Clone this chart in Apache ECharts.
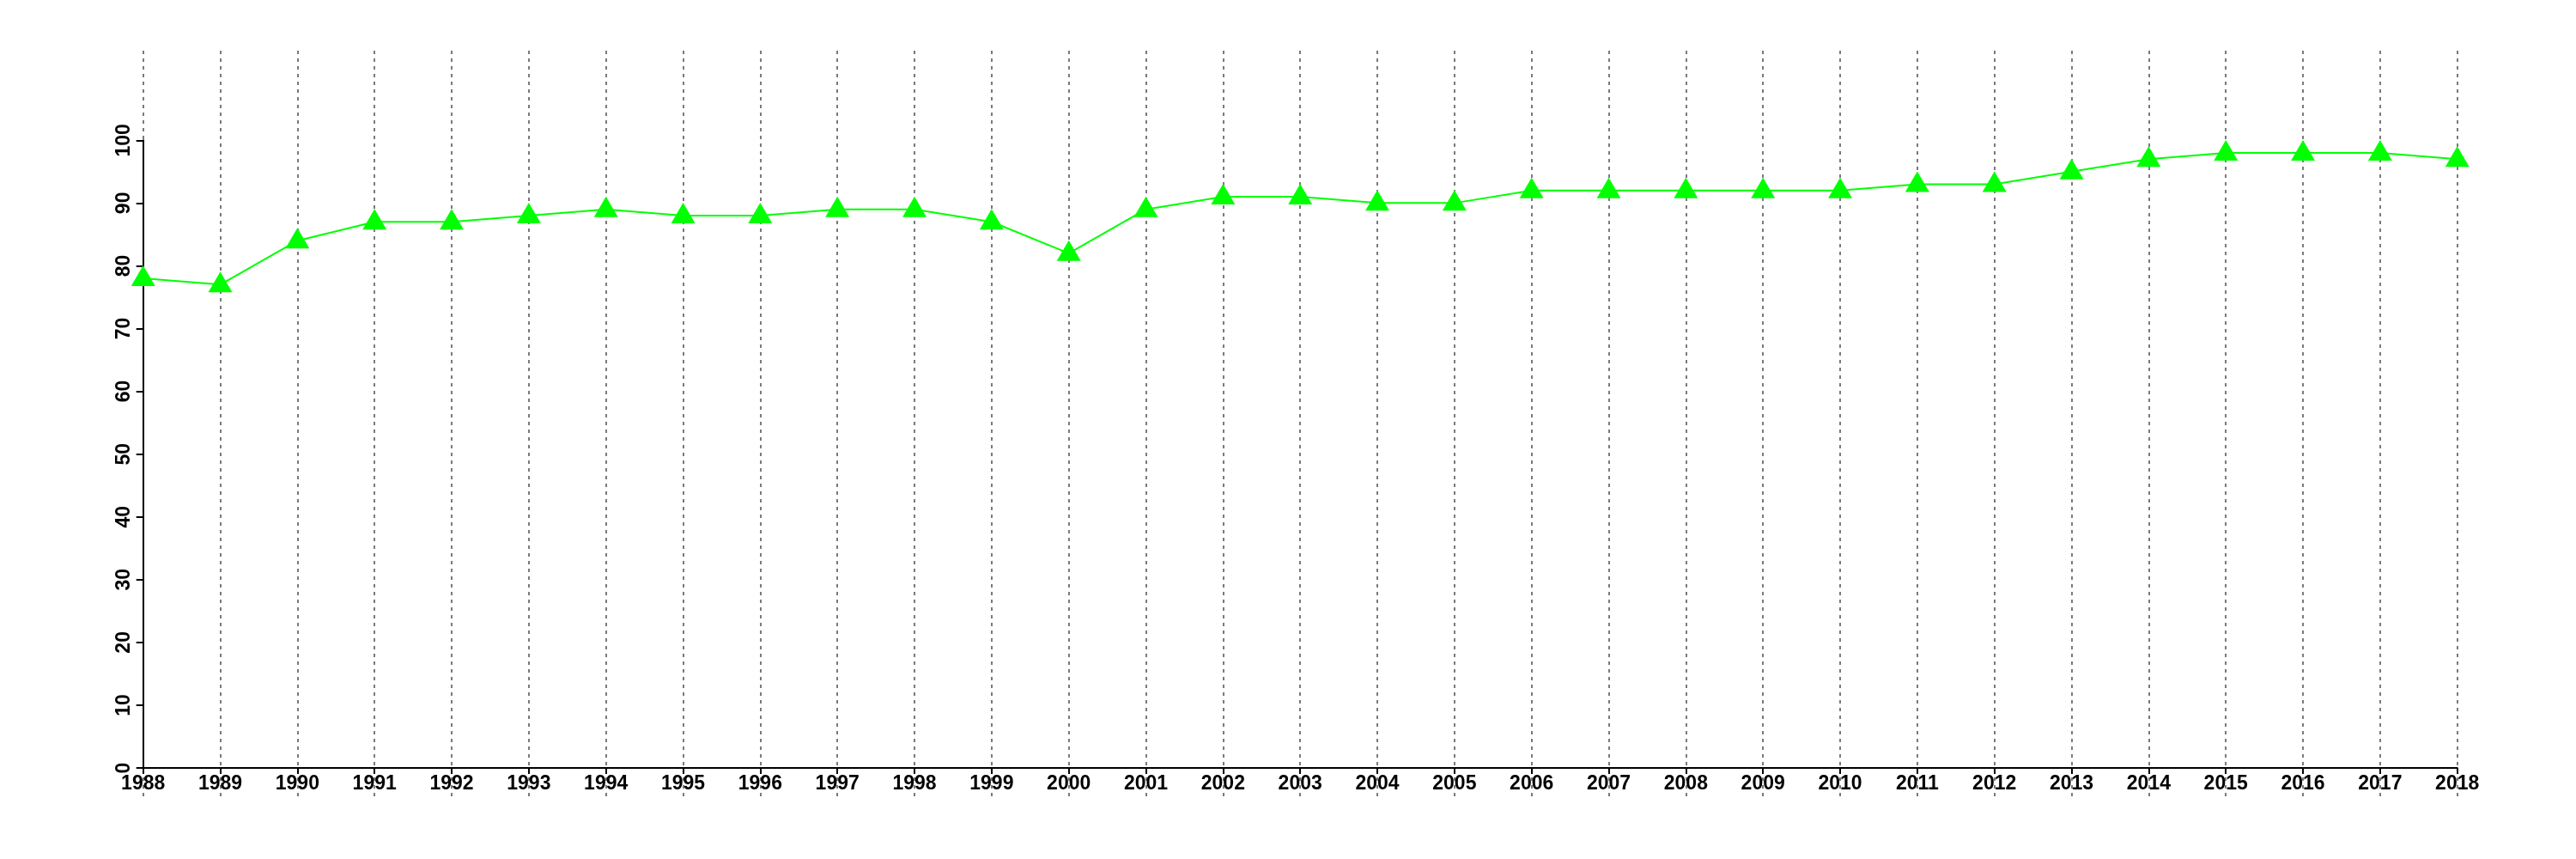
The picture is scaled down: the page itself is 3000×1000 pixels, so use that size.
<!DOCTYPE html>
<html>
<head>
<meta charset="utf-8">
<script src="https://cdn.jsdelivr.net/npm/echarts@6/dist/echarts.min.js"></script>
<style>
html,body{margin:0;padding:0;background:#fff;}
#chart{width:3000px;height:1000px;}
</style>
</head>
<body>
<div id="chart"></div>
<script>
const years = ['1988','1989','1990','1991','1992','1993','1994','1995','1996','1997','1998','1999','2000','2001','2002','2003','2004','2005','2006','2007','2008','2009','2010','2011','2012','2013','2014','2015','2016','2017','2018'];
const values = [78,77,84,87,87,88,89,88,88,89,89,87,82,89,91,91,90,90,92,92,92,92,92,93,93,95,97,98,98,98,97];
const yMin = 0, yMax = 100, yStep = 10;

const labelFont = {color:'#000', fontSize:23, fontFamily:'Liberation Sans', fontWeight:'bold'};
const chart = echarts.init(document.getElementById('chart'));
chart.setOption({
  animation:false,
  backgroundColor:'#fff',
  grid:[
    {left:166.7, right:138.3, top:163.3, bottom:106, containLabel:false},
    {left:166.7, right:138.3, top:59, bottom:73, containLabel:false}
  ],
  xAxis:[
    {type:'category', gridIndex:0, data:years, boundaryGap:false,
     axisLine:{show:true, onZero:false, lineStyle:{color:'#000', width:2}},
     axisTick:{show:true, length:7, lineStyle:{color:'#000', width:2}, alignWithLabel:true},
     axisLabel:Object.assign({interval:0, margin:7}, labelFont),
     splitLine:{show:false}},
    {type:'category', gridIndex:1, data:years, boundaryGap:false,
     axisLine:{show:false}, axisTick:{show:false}, axisLabel:{show:false},
     splitLine:{show:true, interval:0, lineStyle:{color:'#7a7a7a', width:2, type:[4,5]}}}
  ],
  yAxis:[
    {type:'value', gridIndex:0, min:yMin, max:yMax, interval:yStep,
     axisLine:{show:true, lineStyle:{color:'#000', width:2}},
     axisTick:{show:true, length:8, lineStyle:{color:'#000', width:2}},
     axisLabel:Object.assign({rotate:90, margin:11}, labelFont),
     splitLine:{show:false}},
    {type:'value', gridIndex:1, show:false, splitLine:{show:false}}
  ],
  series:[{
    type:'line', xAxisIndex:0, yAxisIndex:0, data:values,
    lineStyle:{color:'#00ff00', width:2},
    itemStyle:{color:'#00ff00'},
    symbol:'triangle', symbolSize:[28,24], symbolOffset:[0,-3],
    showAllSymbol:true, z:5
  }]
});
</script>
</body>
</html>
